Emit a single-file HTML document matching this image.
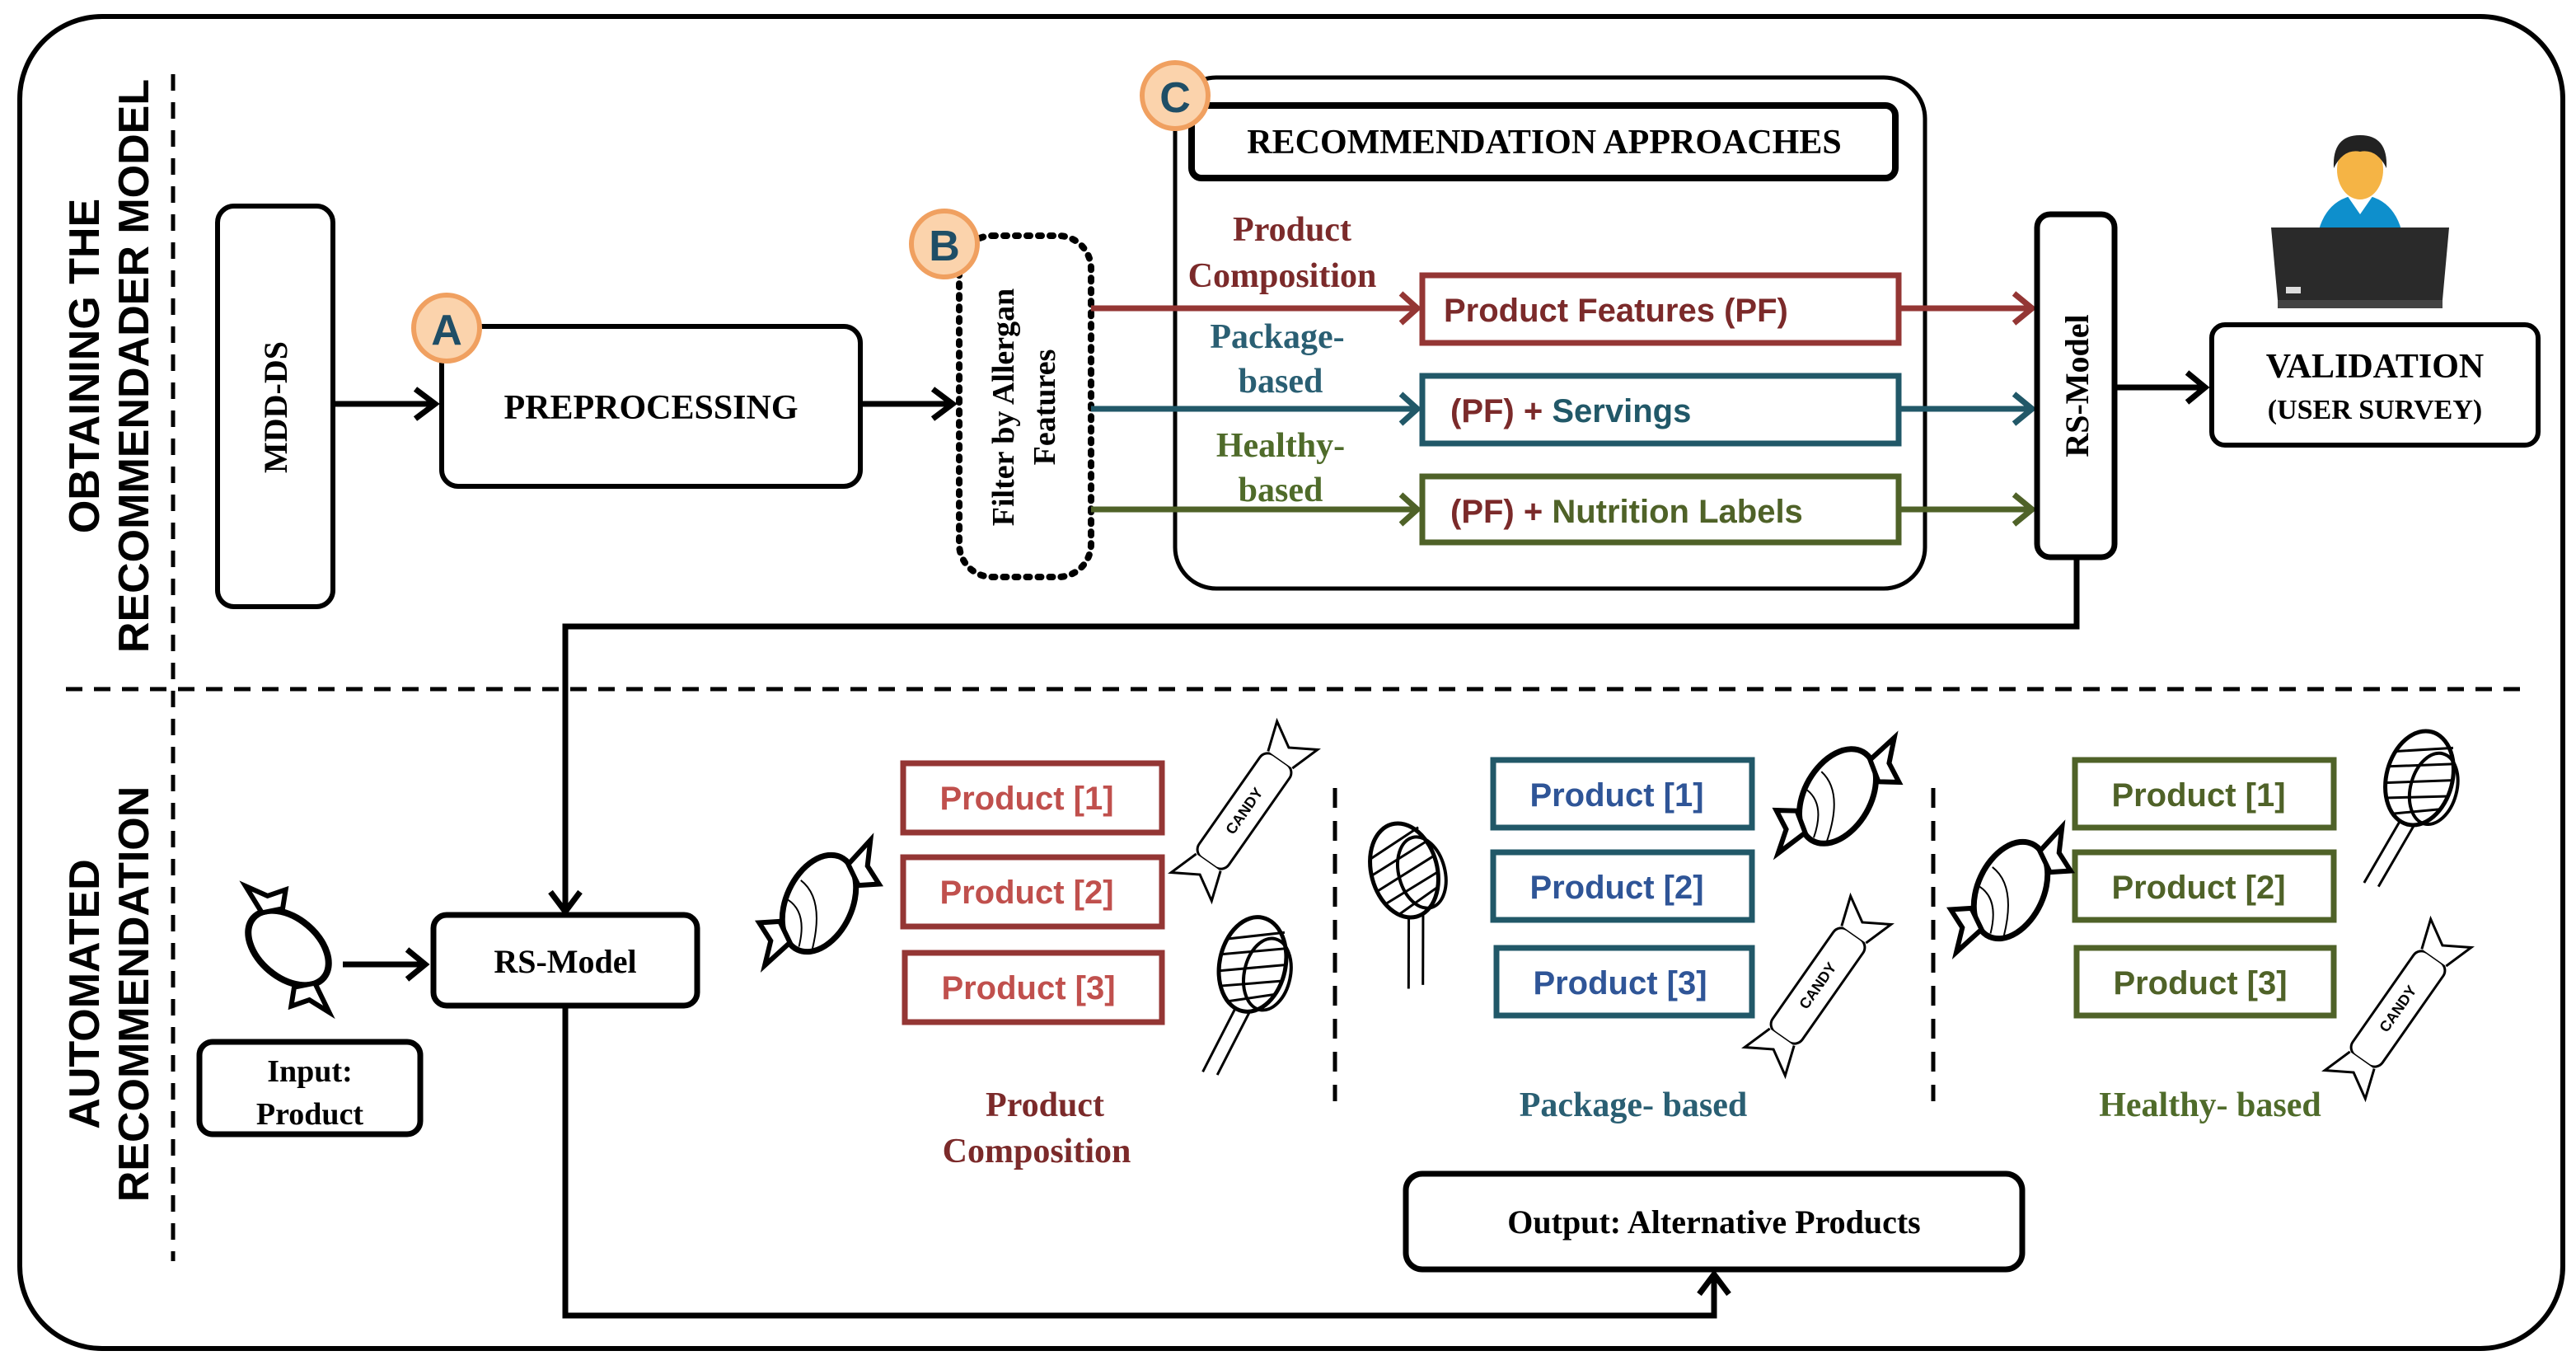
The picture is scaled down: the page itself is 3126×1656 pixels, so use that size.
<!DOCTYPE html>
<html><head><meta charset="utf-8"><style>
html,body{margin:0;padding:0;background:#fff;}
svg{display:block;}
.s{font-family:"Liberation Serif",serif;font-weight:bold;}
.a{font-family:"Liberation Sans",sans-serif;font-weight:bold;}
</style></head><body>
<svg width="3126" height="1656" viewBox="0 0 1563 828" xmlns="http://www.w3.org/2000/svg">
<defs>
<g id="candy">
<ellipse cx="0" cy="0" rx="20" ry="31" fill="#fff" stroke="#000" stroke-width="3.5"/>
<path d="M-16,-8 Q2,-4 8,27 M-18,6 Q-4,8 0,29" fill="none" stroke="#000" stroke-width="1"/>
<path d="M6,-29 L12,-48 L17,-33 L28,-26 L17,-20 Z" fill="#fff" stroke="#000" stroke-width="3"/>
<path d="M-6,29 L-14,48 L-17,33 L-28,26 L-17,20 Z" fill="#fff" stroke="#000" stroke-width="3"/>
</g>
<g id="lolly">
<line x1="-3" y1="22" x2="-16" y2="70" stroke="#000" stroke-width="1.5"/>
<line x1="6" y1="22" x2="-7" y2="70" stroke="#000" stroke-width="1.5"/>
<ellipse cx="0" cy="0" rx="20" ry="29" fill="#fff" stroke="#000" stroke-width="2.5"/>
<path d="M-18,-12 L15,-23 M-20,-2 L19,-14 M-19,8 L20,-4 M-17,17 L20,6 M-10,25 L17,15" stroke="#000" stroke-width="1.5"/>
<ellipse cx="10" cy="4" rx="14" ry="22" fill="none" stroke="#000" stroke-width="2"/>
</g>
<g id="wrap">
<rect x="-11" y="-38" width="22" height="76" rx="6" fill="#fff" stroke="#000" stroke-width="1.5"/>
<text x="0" y="3" transform="rotate(-90)" font-family="Liberation Sans,sans-serif" font-size="9" text-anchor="middle" font-weight="bold">CANDY</text>
<path d="M-9,-38 L-15,-56 L0,-47 L15,-56 L9,-38 M-9,38 L-15,56 L0,47 L15,56 L9,38" fill="#fff" stroke="#000" stroke-width="1.5"/>
</g>
</defs>

<rect x="12" y="10" width="1543" height="808" rx="50" fill="none" stroke="#000" stroke-width="3"/>
<line x1="105" y1="45" x2="105" y2="765" stroke="#000" stroke-width="2.5" stroke-dasharray="10,7"/>
<line x1="40" y1="418" x2="1530" y2="418" stroke="#000" stroke-width="2.5" stroke-dasharray="10,7"/>

<text class="a" font-size="26" text-anchor="middle" transform="translate(60,222) rotate(-90)">OBTAINING THE</text>
<text class="a" font-size="26" text-anchor="middle" transform="translate(90,222) rotate(-90)">RECOMMENDADER MODEL</text>
<text class="a" font-size="26" text-anchor="middle" transform="translate(60,603) rotate(-90)">AUTOMATED</text>
<text class="a" font-size="26" text-anchor="middle" transform="translate(90,603) rotate(-90)">RECOMMENDATION</text>

<rect x="132" y="125" width="70" height="243" rx="10" fill="#fff" stroke="#000" stroke-width="3"/>
<text class="s" font-size="20" text-anchor="middle" transform="translate(174,247) rotate(-90)">MDD-DS</text>
<path d="M202,245 L262,245 M252,236 L264,245 L252,254" fill="none" stroke="#000" stroke-width="3.5"/>

<rect x="268" y="198" width="254" height="97" rx="10" fill="#fff" stroke="#000" stroke-width="3"/>
<text class="s" font-size="21" x="395" y="254" text-anchor="middle">PREPROCESSING</text>
<path d="M522,245 L576,245 M566,236 L578,245 L566,254" fill="none" stroke="#000" stroke-width="3.5"/>

<rect x="582" y="143" width="80" height="207" rx="20" fill="#fff" stroke="#000" stroke-width="4" stroke-dasharray="2,5" stroke-linecap="round"/>
<text class="s" font-size="19" text-anchor="middle" transform="translate(615,247) rotate(-90)">Filter by Allergan</text>
<text class="s" font-size="19" text-anchor="middle" transform="translate(640,247) rotate(-90)">Features</text>

<rect x="713" y="47" width="455" height="310" rx="25" fill="none" stroke="#000" stroke-width="2.5"/>
<rect x="723" y="64" width="427" height="44" rx="6" fill="#fff" stroke="#000" stroke-width="4"/>
<text class="s" font-size="21" x="937" y="93" text-anchor="middle">RECOMMENDATION APPROACHES</text>

<text class="s" font-size="21" fill="#7b2a2a" x="784" y="146" text-anchor="middle">Product</text>
<text class="s" font-size="21" fill="#7b2a2a" x="778" y="174" text-anchor="middle">Composition</text>
<text class="s" font-size="21" fill="#2a5f73" x="775" y="211" text-anchor="middle">Package-</text>
<text class="s" font-size="21" fill="#2a5f73" x="777" y="238" text-anchor="middle">based</text>
<text class="s" font-size="21" fill="#4f6b2a" x="777" y="277" text-anchor="middle">Healthy-</text>
<text class="s" font-size="21" fill="#4f6b2a" x="777" y="304" text-anchor="middle">based</text>

<g fill="none" stroke-width="3.5">
<path d="M662,187 L858,187 M850,178 L860,187 L850,196 M1152,187 L1231,187 M1222,178 L1233,187 L1222,196" stroke="#943634"/>
<path d="M662,248 L858,248 M850,239 L860,248 L850,257 M1152,248 L1231,248 M1222,239 L1233,248 L1222,257" stroke="#215868"/>
<path d="M662,309 L858,309 M850,300 L860,309 L850,318 M1152,309 L1231,309 M1222,300 L1233,309 L1222,318" stroke="#4f6228"/>
</g>
<rect x="863" y="167" width="289" height="41" fill="#fff" stroke="#943634" stroke-width="3.5"/>
<text class="a" font-size="20" fill="#7b2a2a" x="876" y="195">Product Features (PF)</text>
<rect x="863" y="228" width="289" height="41" fill="#fff" stroke="#215868" stroke-width="3.5"/>
<text class="a" font-size="20" x="880" y="256"><tspan fill="#7b2a2a">(PF) + </tspan><tspan fill="#215868">Servings</tspan></text>
<rect x="863" y="289" width="289" height="40" fill="#fff" stroke="#4f6228" stroke-width="3.5"/>
<text class="a" font-size="20" x="880" y="317"><tspan fill="#7b2a2a">(PF) + </tspan><tspan fill="#4f6228">Nutrition Labels</tspan></text>

<rect x="1236" y="130" width="47" height="208" rx="8" fill="#fff" stroke="#000" stroke-width="3.5"/>
<text class="s" font-size="20" text-anchor="middle" transform="translate(1267,234) rotate(-90)">RS-Model</text>
<path d="M1283,235 L1336,235 M1327,226 L1338,235 L1327,244" fill="none" stroke="#000" stroke-width="3.5"/>
<rect x="1342" y="197" width="198" height="73" rx="8" fill="#fff" stroke="#000" stroke-width="3"/>
<text class="s" font-size="21" x="1441" y="229" text-anchor="middle">VALIDATION</text>
<text class="s" font-size="17" x="1441" y="254" text-anchor="middle">(USER SURVEY)</text>

<path d="M1405,150 Q1408,120 1432,118 Q1456,120 1459,150 Z" fill="#0e8fcc"/>
<path d="M1423,117 L1432,130 L1441,117 Z" fill="#fff"/>
<ellipse cx="1432" cy="103" rx="14" ry="18" fill="#f5b445"/>
<path d="M1416,102 Q1415,82 1432,82 Q1449,82 1448,102 Q1442,90 1432,92 Q1422,90 1416,102 Z" fill="#222"/>
<path d="M1378,138 L1486,138 L1482,182 L1382,182 Z" fill="#2a2a2a"/>
<rect x="1382" y="182" width="100" height="5" fill="#444"/>
<rect x="1387" y="174" width="9" height="4" fill="#ddd"/>

<path d="M1260,338 L1260,380 L343,380 L343,550 M334,541 L343,553 L352,541" fill="none" stroke="#000" stroke-width="3.5"/>
<rect x="263" y="555" width="160" height="55" rx="8" fill="#fff" stroke="#000" stroke-width="3.5"/>
<text class="s" font-size="20" x="343" y="590" text-anchor="middle">RS-Model</text>
<path d="M343,610 L343,798 L1040,798 L1040,776 M1031,785 L1040,773 L1049,785" fill="none" stroke="#000" stroke-width="3.5"/>
<rect x="853" y="712" width="374" height="58" rx="10" fill="#fff" stroke="#000" stroke-width="3.5"/>
<text class="s" font-size="20" x="1040" y="748" text-anchor="middle">Output: Alternative Products</text>

<g transform="translate(175,575) rotate(-50)">
<ellipse cx="0" cy="0" rx="18" ry="28" fill="#fff" stroke="#000" stroke-width="4"/>
<path d="M6,-26 L12,-44 L16,-30 L26,-24 L16,-18 Z" fill="#fff" stroke="#000" stroke-width="3"/>
<path d="M-6,26 L-14,44 L-16,30 L-26,24 L-16,18 Z" fill="#fff" stroke="#000" stroke-width="3"/>
</g>
<path d="M208,585 L256,585 M247,576 L258,585 L247,594" fill="none" stroke="#000" stroke-width="3.5"/>
<rect x="121" y="632" width="134" height="56" rx="8" fill="#fff" stroke="#000" stroke-width="3.5"/>
<text class="s" font-size="19" x="188" y="656" text-anchor="middle">Input:</text>
<text class="s" font-size="19" x="188" y="682" text-anchor="middle">Product</text>

<g stroke-width="3.5" fill="#fff">
<rect x="548" y="463" width="157" height="42" stroke="#943634"/>
<rect x="548" y="520" width="157" height="42" stroke="#943634"/>
<rect x="549" y="578" width="156" height="42" stroke="#943634"/>
<rect x="906" y="461" width="157" height="41" stroke="#215868"/>
<rect x="906" y="517" width="157" height="41" stroke="#215868"/>
<rect x="908" y="575" width="155" height="41" stroke="#215868"/>
<rect x="1259" y="461" width="157" height="41" stroke="#4f6228"/>
<rect x="1259" y="517" width="157" height="41" stroke="#4f6228"/>
<rect x="1260" y="575" width="156" height="41" stroke="#4f6228"/>
</g>
<g class="a" font-size="20" text-anchor="middle">
<text x="623" y="491" fill="#c0504d">Product [1]</text>
<text x="623" y="548" fill="#c0504d">Product [2]</text>
<text x="624" y="606" fill="#c0504d">Product [3]</text>
<text x="981" y="489" fill="#2f5597">Product [1]</text>
<text x="981" y="545" fill="#2f5597">Product [2]</text>
<text x="983" y="603" fill="#2f5597">Product [3]</text>
<text x="1334" y="489" fill="#4f6228">Product [1]</text>
<text x="1334" y="545" fill="#4f6228">Product [2]</text>
<text x="1335" y="603" fill="#4f6228">Product [3]</text>
</g>
<line x1="810" y1="478" x2="810" y2="668" stroke="#000" stroke-width="2.5" stroke-dasharray="12,8"/>
<line x1="1173" y1="478" x2="1173" y2="668" stroke="#000" stroke-width="2.5" stroke-dasharray="12,8"/>

<use href="#candy" transform="translate(497,548) rotate(25)"/>
<use href="#wrap" transform="translate(755,492) rotate(35)"/>
<use href="#lolly" transform="translate(760,585) rotate(12)"/>
<use href="#lolly" transform="translate(852,528) rotate(-15)"/>
<use href="#candy" transform="translate(1115,483) rotate(30)"/>
<use href="#wrap" transform="translate(1103,598) rotate(35)"/>
<use href="#candy" transform="translate(1220,540) rotate(25)"/>
<use href="#lolly" transform="translate(1468,472) rotate(15)"/>
<use href="#wrap" transform="translate(1455,612) rotate(35)"/>

<text class="s" font-size="21" fill="#7b2a2a" x="634" y="677" text-anchor="middle">Product</text>
<text class="s" font-size="21" fill="#7b2a2a" x="629" y="705" text-anchor="middle">Composition</text>
<text class="s" font-size="21" fill="#2a5f73" x="991" y="677" text-anchor="middle">Package- based</text>
<text class="s" font-size="21" fill="#4f6b2a" x="1341" y="677" text-anchor="middle">Healthy- based</text>

<g class="a" font-size="26" text-anchor="middle">
<circle cx="271" cy="199" r="20" fill="#fbd3ac" stroke="#f0a060" stroke-width="3"/>
<text x="271" y="209" fill="#1f4e66">A</text>
<circle cx="573" cy="148" r="20" fill="#fbd3ac" stroke="#f0a060" stroke-width="3"/>
<text x="573" y="158" fill="#1f4e66">B</text>
<circle cx="713" cy="58" r="20" fill="#fbd3ac" stroke="#f0a060" stroke-width="3"/>
<text x="713" y="68" fill="#1f4e66">C</text>
</g>
</svg>
</body></html>
